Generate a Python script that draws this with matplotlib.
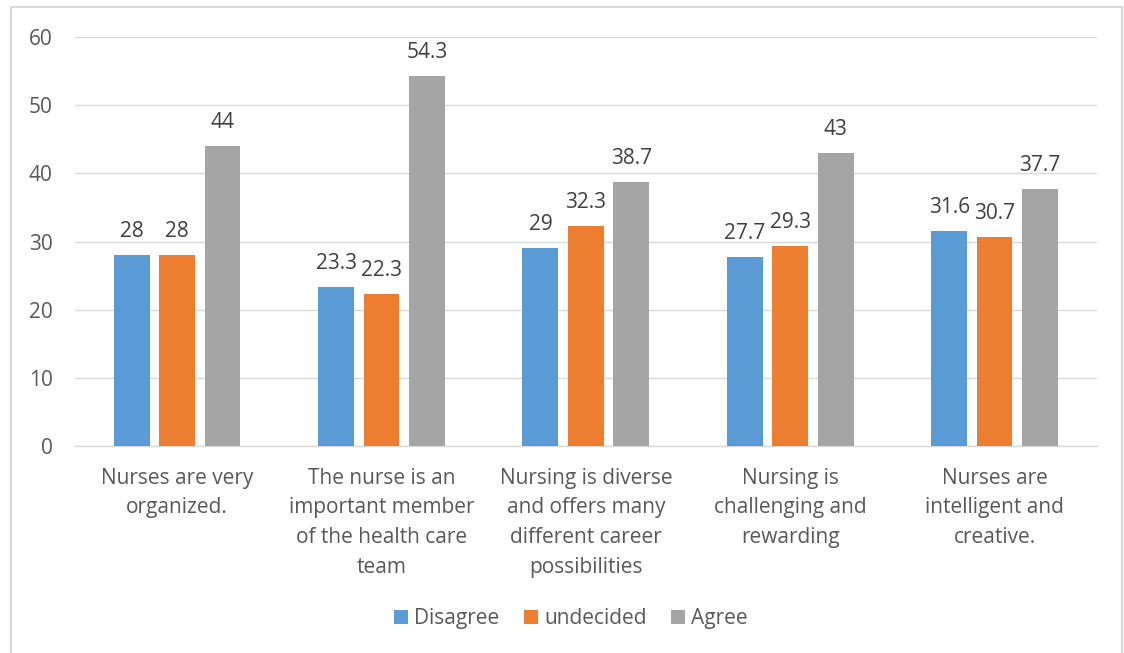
import matplotlib.pyplot as plt
import matplotlib.patches as patches
import numpy as np

categories = [
    "Nurses are very\norganized.",
    "The nurse is an\nimportant member\nof the health care\nteam",
    "Nursing is diverse\nand offers many\ndifferent career\npossibilities",
    "Nursing is\nchallenging and\nrewarding",
    "Nurses are\nintelligent and\ncreative.",
]
series_names = ["Disagree", "undecided", "Agree"]
disagree = [28, 23.3, 29, 27.7, 31.6]
undecided = [28, 22.3, 32.3, 29.3, 30.7]
agree = [44, 54.3, 38.7, 43, 37.7]
yticks = [0, 10, 20, 30, 40, 50, 60]

colors = ["#5B9BD5", "#ED7D31", "#A5A5A5"]
text_color = "#595959"
fs = 15

plt.rcParams["font.family"] = ["Open Sans", "DejaVu Sans"]

fig = plt.figure(figsize=(11.24, 6.53), dpi=100)
ax = fig.add_axes([0.0667, 0.317, 0.909, 0.626])

x = np.arange(len(categories))
width = 0.176
step = 0.222
for i, (name, vals) in enumerate(zip(series_names, [disagree, undecided, agree])):
    pos = x + (i - 1) * step
    bars = ax.bar(pos, vals, width, color=colors[i], label=name, zorder=3)
    for b, v in zip(bars, vals):
        ax.annotate(f"{v:g}", (b.get_x() + b.get_width() / 2, v),
                    xytext=(0, 9.5), textcoords="offset points",
                    ha="center", va="bottom", fontsize=fs, color="#404040")

ax.set_xlim(-0.5, len(categories) - 0.5)
ax.set_ylim(0, 60)
ax.set_yticks(yticks)
ax.set_xticks(x)
ax.set_xticklabels(categories, linespacing=1.55)
ax.tick_params(axis="both", length=0, labelsize=fs, colors=text_color)
ax.tick_params(axis="x", pad=15.5)
ax.tick_params(axis="y", pad=16)
ax.grid(axis="y", color="#D9D9D9", linewidth=1.0, zorder=0)
for s in ["top", "right", "left"]:
    ax.spines[s].set_visible(False)
ax.spines["bottom"].set_color("#D9D9D9")
ax.spines["bottom"].set_linewidth(1.0)

leg = fig.legend(loc="center", bbox_to_anchor=(0.508, 0.053), ncol=3, frameon=False,
                 fontsize=fs, handlelength=0.65, handleheight=0.65,
                 handletextpad=0.3, columnspacing=1.2)
for t in leg.get_texts():
    t.set_color(text_color)

# outer chart border
fig.patches.append(patches.Rectangle((11 / 1124, -0.05), 1111 / 1124, 1.05 - 7 / 653,
                                     transform=fig.transFigure, fill=False,
                                     edgecolor="#D9D9D9", linewidth=1.5))

fig.savefig("out.png", dpi=100)
